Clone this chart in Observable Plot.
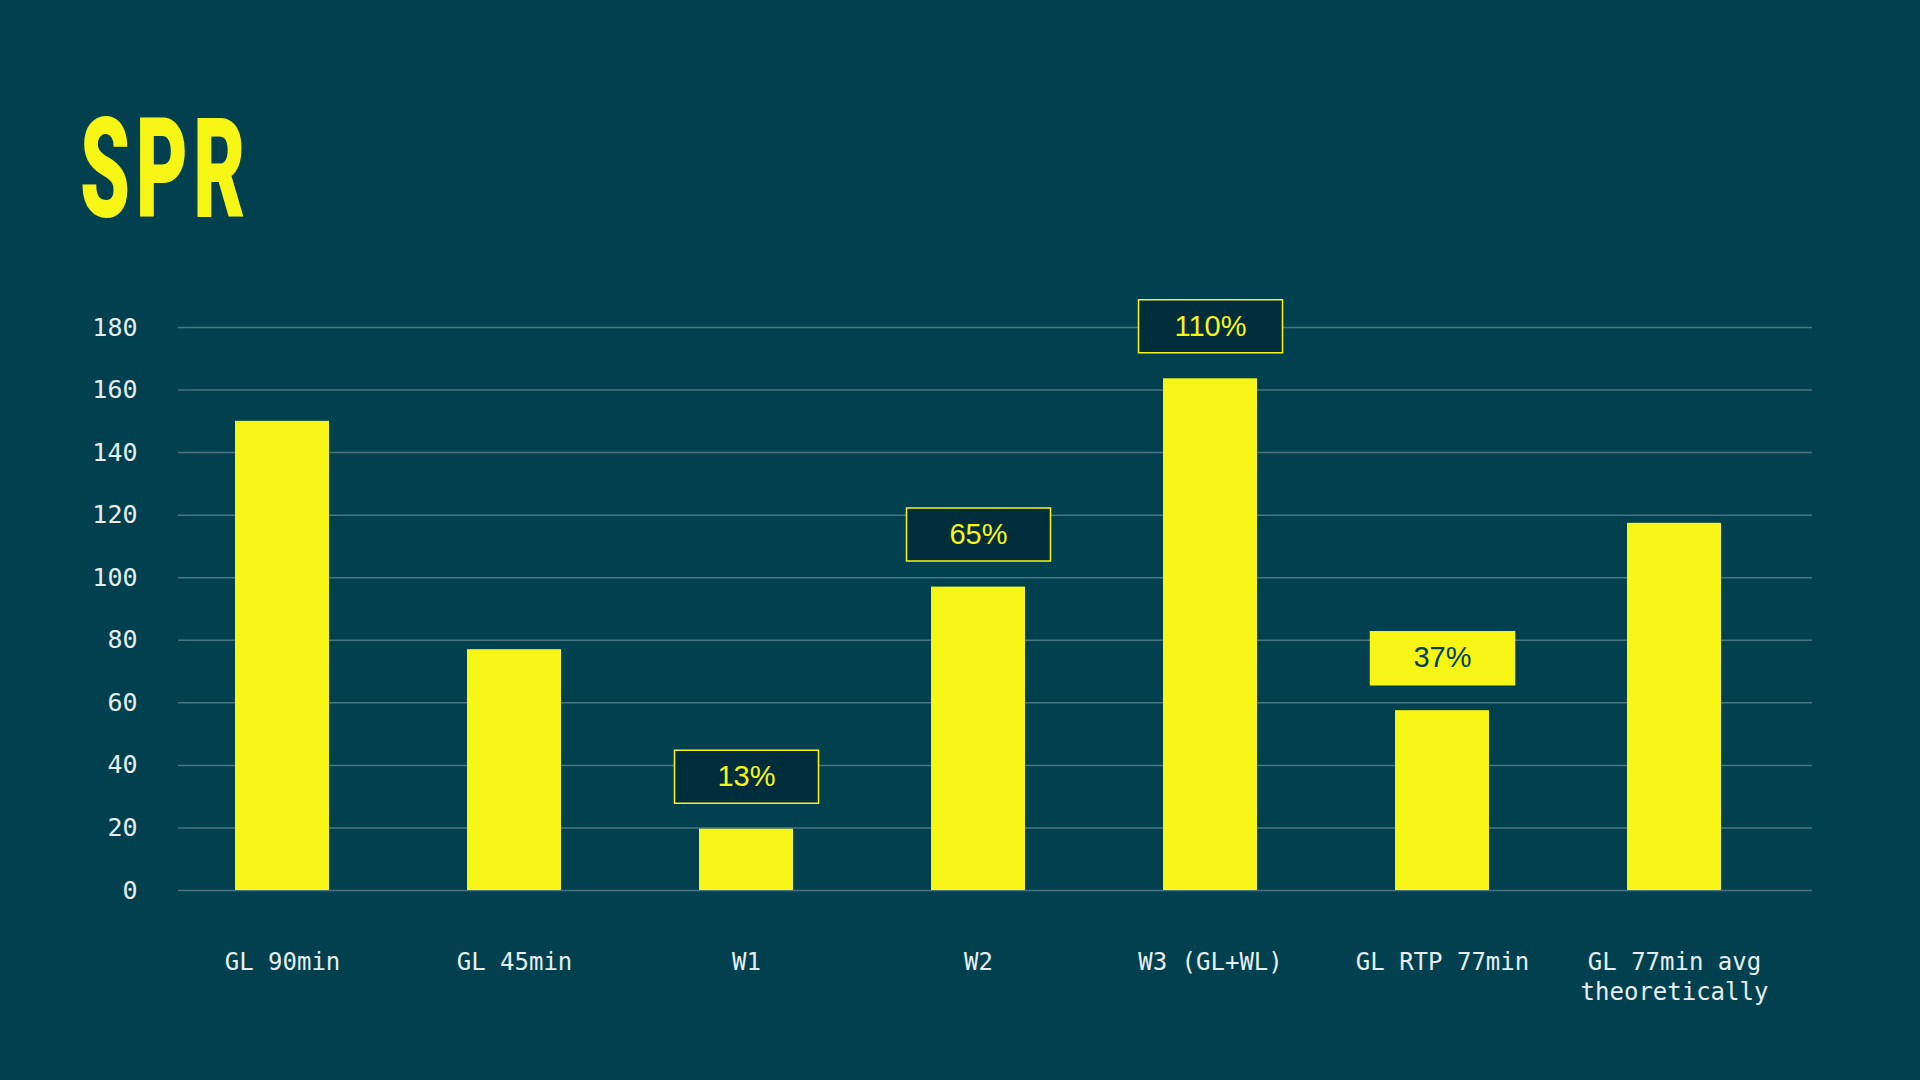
<!DOCTYPE html>
<html>
<head>
<meta charset="utf-8">
<script src="https://cdn.jsdelivr.net/npm/d3@7"></script>
<script src="https://cdn.jsdelivr.net/npm/@observablehq/plot@0.6"></script>
<style>
  html, body { margin: 0; padding: 0; background: #01404F; }
  #page { position: relative; width: 1920px; height: 1080px; background: #01404F; overflow: hidden; }
  #title {
    position: absolute; left: 80px; top: 99px;
    font-family: Roboto, "DejaVu Sans", sans-serif; font-weight: 900;
    font-size: 140px; line-height: 1; color: #F7F514;
    letter-spacing: 10px;
    transform: scaleX(0.57); transform-origin: left top;
  }
  #chart { position: absolute; left: 0; top: 0; }
</style>
</head>
<body>
<div id="page">
  <div id="title">SPR</div>
  <div id="chart"></div>
</div>
<script>
const categories = ["GL 90min", "GL 45min", "W1", "W2", "W3 (GL+WL)", "GL RTP 77min", "GL 77min avg\ntheoretically"];
const values = [150, 77, 19.6, 97, 163.6, 57.5, 117.4];
const percentCategories = ["W1", "W2", "W3 (GL+WL)", "GL RTP 77min"];
const percentLabels = ["13%", "65%", "110%", "37%"];
const highlightedPercent = "37%";
const yTicks = [0, 20, 40, 60, 80, 100, 120, 140, 160, 180];

const bars = categories.map((c, i) => ({category: c, value: values[i]}));
const boxes = percentCategories.map((c, i) => ({
  category: c,
  value: values[categories.indexOf(c)],
  label: percentLabels[i]
}));
const darkBoxes = boxes.filter(d => d.label !== highlightedPercent);
const brightBoxes = boxes.filter(d => d.label === highlightedPercent);

const YELLOW = "#F7F514";
const BG = "#01404F";
const DARK = "#002D3B";
const boxSymbol = {
  draw(ctx) {
    ctx.moveTo(-72, -26.5);
    ctx.lineTo(72, -26.5);
    ctx.lineTo(72, 26.5);
    ctx.lineTo(-72, 26.5);
    ctx.closePath();
  }
};
const mono = "'DejaVu Sans Mono', 'Liberation Mono', monospace";
const sans = "'Liberation Sans', Arial, sans-serif";

const chart = Plot.plot({
  width: 1920,
  height: 1080,
  marginTop: 327,
  marginBottom: 190,
  marginLeft: 178,
  marginRight: 108,
  style: {background: "transparent", color: "#E6EEF0", fontFamily: mono},
  x: {domain: categories, range: [166, 1790], paddingInner: 0.595, paddingOuter: 0.2975, label: null},
  y: {domain: [0, 180], label: null},
  marks: [
    Plot.ruleY(yTicks, {stroke: "#4A7583", strokeWidth: 1.5}),
    Plot.barY(bars, {x: "category", y: "value", fill: YELLOW}),
    Plot.dot(darkBoxes, {x: "category", y: "value", symbol: boxSymbol, dy: -52.5, fill: DARK, stroke: YELLOW, strokeWidth: 1.5}),
    Plot.dot(brightBoxes, {x: "category", y: "value", symbol: boxSymbol, dy: -52.5, fill: YELLOW, stroke: YELLOW, strokeWidth: 1.5}),
    Plot.text(darkBoxes, {x: "category", y: "value", text: "label", dy: -52.5, fill: YELLOW, fontSize: 29, fontFamily: sans}),
    Plot.text(brightBoxes, {x: "category", y: "value", text: "label", dy: -52.5, fill: BG, fontSize: 29, fontFamily: sans}),
    Plot.axisY({ticks: yTicks, tickSize: 0, tickPadding: 41, fontSize: 25, fill: "#E6EEF0", label: null}),
    Plot.axisX({tickSize: 0, tickPadding: 58, fontSize: 24, fill: "#E6EEF0", lineHeight: 1.25, label: null})
  ]
});
document.getElementById("chart").appendChild(chart);
</script>
</body>
</html>
